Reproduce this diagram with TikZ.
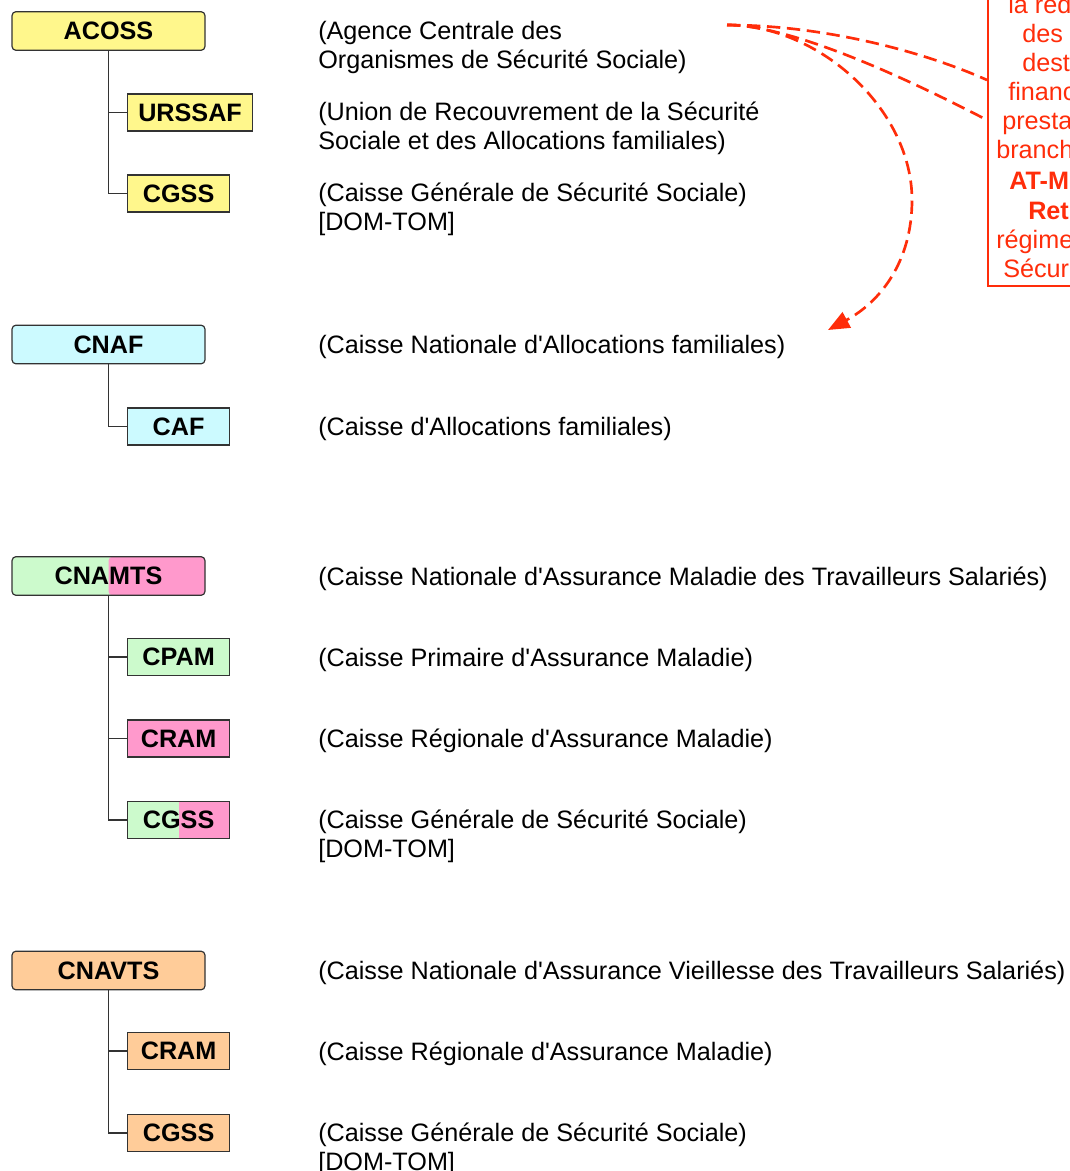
\documentclass[tikz,border=0pt]{standalone}
\usepackage{fontspec}
\setmainfont{Liberation Sans}
\usetikzlibrary{arrows.meta}

\definecolor{acossyellow}{RGB}{255,247,140}
\definecolor{cnafcyan}{RGB}{204,250,255}
\definecolor{maladiegreen}{RGB}{204,250,204}
\definecolor{maladiepink}{RGB}{255,153,204}
\definecolor{vieilleorange}{RGB}{255,204,153}
\definecolor{notered}{RGB}{255,45,10}

\newcommand{\apos}{\textquotesingle{}}

\tikzset{
    caisse/.style={draw=black!80, line width=0.9pt, inner sep=0pt,
        font=\fontsize{18.9pt}{21pt}\selectfont\bfseries},
    national/.style={caisse, rounded corners=3pt, minimum width=144.75pt, minimum height=29pt},
    local/.style={caisse, anchor=west, minimum width=76.5pt, minimum height=27.75pt},
    split/.style={path picture={\fill[#1] (path picture bounding box.north) rectangle (path picture bounding box.south east);}},
    desc/.style={anchor=base west, align=left, inner sep=0pt,
        font=\fontsize{18.9pt}{21.4pt}\selectfont},
    tree/.style={draw=black!80, line width=0.9pt},
    flux/.style={notered, line width=2pt, dash pattern=on 10pt off 5pt},
}

\begin{document}
\begin{tikzpicture}[x=0.75pt, y=-0.75pt]
    \useasboundingbox (0,0) rectangle (1070,1171);

    % recouvrement
    \node[national, fill=acossyellow] (acoss) at (108.5, 31) {ACOSS};
    \node[local, fill=acossyellow, minimum width=93.75pt] (urssaf) at (127, 112.5) {URSSAF};
    \node[local, fill=acossyellow] (cgssA) at (127, 193.5) {CGSS};
    \draw[tree] (acoss.south) |- (urssaf.west) (acoss.south) |- (cgssA.west);
    % (base = derniere ligne)
    \node[desc] (acossD) at (318, 68.5) {(Agence Centrale des\\Organismes de Sécurité Sociale)};
    \node[desc] (urssafD) at (318, 149.5) {(Union de Recouvrement de la Sécurité\\Sociale et des Allocations familiales)};
    \node[desc] (cgssAD) at (318, 230.5) {(Caisse Générale de Sécurité Sociale)\\{[DOM-TOM]}};

    % famille
    \node[national, fill=cnafcyan] (cnaf) at (108.5, 344.5) {CNAF};
    \node[local, fill=cnafcyan] (caf) at (127, 426.5) {CAF};
    \draw[tree] (cnaf.south) |- (caf.west);
    \node[desc] (cnafD) at (318, 353) {(Caisse Nationale d\apos Allocations familiales)};
    \node[desc] (cafD) at (318, 435) {(Caisse d\apos Allocations familiales)};

    % maladie
    \node[national, fill=maladiegreen, split=maladiepink] (cnamts) at (108.5, 576) {CNAMTS};
    \node[local, fill=maladiegreen] (cpam) at (127, 657) {CPAM};
    \node[local, fill=maladiepink] (cramM) at (127, 738.5) {CRAM};
    \node[local, fill=maladiegreen, split=maladiepink] (cgssM) at (127, 820) {CGSS};
    \draw[tree] (cnamts.south) |- (cpam.west) (cnamts.south) |- (cramM.west)
        (cnamts.south) |- (cgssM.west);
    \node[desc] (cnamtsD) at (318, 585) {(Caisse Nationale d\apos Assurance Maladie des Travailleurs Salariés)};
    \node[desc] (cpamD) at (318, 666) {(Caisse Primaire d\apos Assurance Maladie)};
    \node[desc] (cramMD) at (318, 747) {(Caisse Régionale d\apos Assurance Maladie)};
    \node[desc] (cgssMD) at (318, 857.5) {(Caisse Générale de Sécurité Sociale)\\{[DOM-TOM]}};

    % vieillesse
    \node[national, fill=vieilleorange] (cnavts) at (108.5, 970.5) {CNAVTS};
    \node[local, fill=vieilleorange] (cramV) at (127, 1051) {CRAM};
    \node[local, fill=vieilleorange] (cgssV) at (127, 1133) {CGSS};
    \draw[tree] (cnavts.south) |- (cramV.west) (cnavts.south) |- (cgssV.west);
    \node[desc] (cnavtsD) at (318, 979) {(Caisse Nationale d\apos Assurance Vieillesse des Travailleurs Salariés)};
    \node[desc] (cramVD) at (318, 1060) {(Caisse Régionale d\apos Assurance Maladie)};
    \node[desc] (cgssVD) at (318, 1170.5) {(Caisse Générale de Sécurité Sociale)\\{[DOM-TOM]}};

    % note (coupee par le bord)
    \node[draw=notered, line width=1.5pt, anchor=south west, inner sep=0pt,
        minimum width=112.5pt, minimum height=240pt] (note) at (987, 287) {};
    \foreach \x/\y/\t [count=\i] in {1008/13/la réd, 1022/42/des, 1022/71/dest,
        1008/100/financ, 1002/129/presta, 996/158/branch, 1009/189/{\bfseries AT-M},
        1028/219/{\bfseries Ret}, 996/248/régime, 1003/277/Sécuri}
        \node[desc, text=notered] (note\i) at (\x, \y) {\t};

    % fleches
    \coordinate (src) at (727, 25);
    \coordinate (in1) at (987, 80);
    \coordinate (in2) at (987, 120);
    \coordinate (tip) at (828, 330);
    \draw[flux] (src) .. controls (820, 25) and (920, 50) .. (in1);
    \draw[flux] (src) .. controls (790, 25) and (900, 75) .. (in2);
    \draw[flux, -{Triangle[length=16pt, width=13pt]}] (src) .. controls (820, 25) and (912, 110) .. (912, 200)
        .. controls (912, 262) and (880, 302) .. (tip);
\end{tikzpicture}
\end{document}
